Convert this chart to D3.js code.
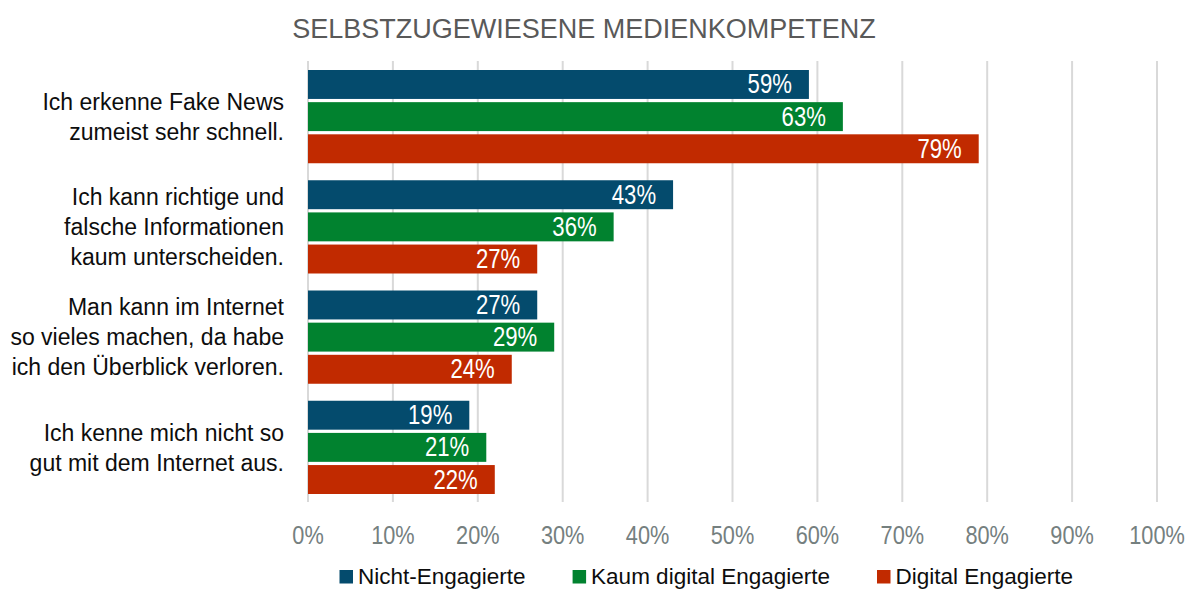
<!DOCTYPE html>
<html>
<head>
<meta charset="utf-8">
<script src="https://cdn.jsdelivr.net/npm/d3@7"></script>
<style>
  html, body { margin: 0; padding: 0; background: #ffffff; }
  svg { display: block; }
</style>
</head>
<body>
<svg id="chart" width="1187" height="590"></svg>
<script>
// ---------------- DATA ----------------
const title = "SELBSTZUGEWIESENE MEDIENKOMPETENZ";
const categories = [
  ["Ich erkenne Fake News", "zumeist sehr schnell."],
  ["Ich kann richtige und", "falsche Informationen", "kaum unterscheiden."],
  ["Man kann im Internet", "so vieles machen, da habe", "ich den Überblick verloren."],
  ["Ich kenne mich nicht so", "gut mit dem Internet aus."]
];
const seriesNames = ["Nicht-Engagierte", "Kaum digital Engagierte", "Digital Engagierte"];
const nichtEngagierte = [59, 43, 27, 19];
const kaumDigital = [63, 36, 29, 21];
const digitalEngagierte = [79, 27, 24, 22];
const tickValues = [0, 10, 20, 30, 40, 50, 60, 70, 80, 90, 100];
const tickLabels = ["0%", "10%", "20%", "30%", "40%", "50%", "60%", "70%", "80%", "90%", "100%"];
const seriesColors = ["#044b6d", "#01822f", "#c12a00"];

// ---------------- FONT CHECK ----------------
function hasFont(name) {
  const c = document.createElement("canvas").getContext("2d");
  const s = "abcdefghijklmnopqrstuvwxyz0123456789%";
  c.font = "40px monospace";
  const a = c.measureText(s).width;
  c.font = `40px "${name}", monospace`;
  const b = c.measureText(s).width;
  return Math.abs(a - b) > 0.5;
}
const narrowOK = hasFont("Liberation Sans Narrow");
const REG = '"Liberation Sans", Arial, sans-serif';
const NAR = '"Liberation Sans Narrow", "Arial Narrow", "Liberation Sans", sans-serif';

function narrowText(parent, x, y, anchor, size, fill, txt) {
  const g = parent.append("g")
    .attr("transform", `translate(${x},${y})` + (narrowOK ? "" : " scale(0.82,1)"));
  g.append("text")
    .attr("x", 0).attr("y", 0)
    .attr("text-anchor", anchor)
    .style("font-family", narrowOK ? NAR : REG)
    .style("font-size", size + "px")
    .attr("fill", fill)
    .text(txt);
  return g;
}

// ---------------- LAYOUT ----------------
const svg = d3.select("#chart");
const rows = categories.map((lines, i) => ({
  key: "c" + i,
  lines,
  values: [nichtEngagierte[i], kaumDigital[i], digitalEngagierte[i]]
}));

const x = d3.scaleLinear().domain([0, 100]).range([308, 1157]);
const y = d3.scaleBand().domain(rows.map(r => r.key)).range([61.5, 502.5]).padding(0);
const yInner = d3.scaleBand().domain(d3.range(seriesNames.length))
  .range([8.5, y.bandwidth() - 8.5]).paddingInner(0.1).paddingOuter(0);

// Title
svg.append("text")
  .attr("x", 584).attr("y", 38)
  .attr("text-anchor", "middle")
  .style("font-family", REG)
  .style("font-size", "27px")
  .attr("fill", "#595959")
  .text(title);

// Gridlines
svg.append("g")
  .selectAll("line.grid")
  .data(tickValues)
  .join("line")
  .attr("class", "grid")
  .attr("x1", d => x(d)).attr("x2", d => x(d))
  .attr("y1", 61).attr("y2", 502)
  .attr("stroke", "#d9d9d9")
  .attr("stroke-width", 2);

// Tick labels
const tickG = svg.append("g");
tickValues.forEach((t, i) => {
  narrowText(tickG, x(t), 543.5, "middle", 26.5, "#75807f", tickLabels[i]);
});

// Bars
const groups = svg.append("g").selectAll("g.row")
  .data(rows)
  .join("g")
  .attr("class", "row")
  .attr("transform", d => `translate(0,${y(d.key)})`);

groups.selectAll("rect")
  .data(d => d.values.map((v, j) => ({ v, j })))
  .join("rect")
  .attr("x", x(0))
  .attr("y", d => yInner(d.j))
  .attr("width", d => x(d.v) - x(0))
  .attr("height", yInner.bandwidth())
  .attr("fill", d => seriesColors[d.j]);

// Data labels
groups.each(function (r) {
  const g = d3.select(this);
  r.values.forEach((v, j) => {
    narrowText(g, x(v) - 17, yInner(j) + yInner.bandwidth() / 2 + 9, "end", 27, "#ffffff", v + "%");
  });
});

// Category labels
const lineH = 30;
rows.forEach(r => {
  const cy = y(r.key) + y.bandwidth() / 2;
  const n = r.lines.length;
  const t = svg.append("text")
    .attr("text-anchor", "end")
    .style("font-family", REG)
    .style("font-size", "23px")
    .attr("fill", "#0d0d0d");
  r.lines.forEach((ln, k) => {
    t.append("tspan")
      .attr("x", 284)
      .attr("y", cy + (k - (n - 1) / 2) * lineH + 8.3)
      .text(ln);
  });
});

// Legend
const legend = svg.append("g");
let lx = 339.5;
seriesNames.forEach((name, j) => {
  legend.append("rect")
    .attr("x", lx).attr("y", 570)
    .attr("width", 13.5).attr("height", 13.5)
    .attr("fill", seriesColors[j]);
  const t = legend.append("text")
    .attr("x", lx + 18.5).attr("y", 584)
    .style("font-family", REG)
    .style("font-size", "22.5px")
    .attr("fill", "#0d0d0d")
    .text(name);
  lx += 18.5 + t.node().getComputedTextLength() + 47;
});
</script>
</body>
</html>
